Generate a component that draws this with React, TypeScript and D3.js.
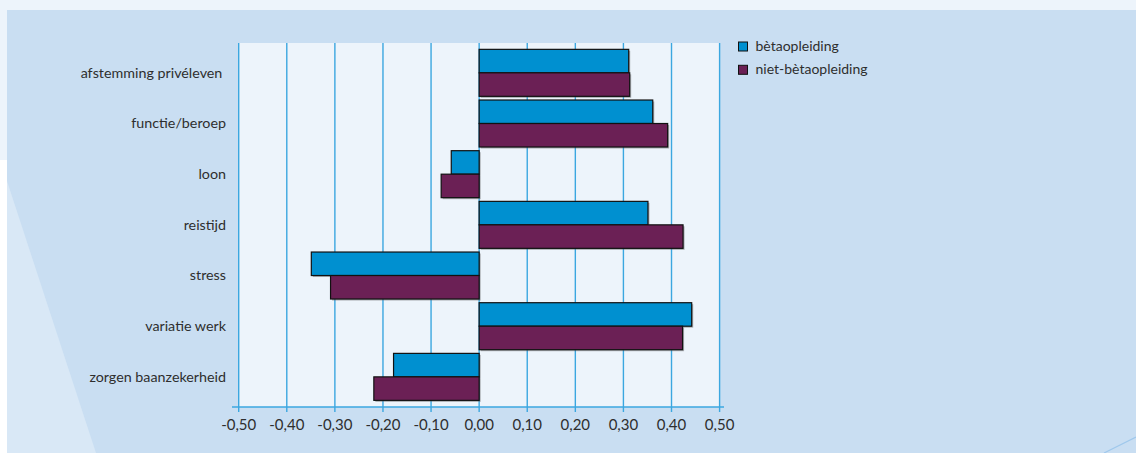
import React from "react";
import * as d3 from "d3";

const categories = [
  "afstemming privéleven ",
  "functie/beroep",
  "loon",
  "reistijd",
  "stress",
  "variatie werk",
  "zorgen baanzekerheid",
];
const seriesNames = ["bètaopleiding", "niet-bètaopleiding"];
const betaValues = [0.311, 0.361, -0.058, 0.351, -0.349, 0.442, -0.178];
const nietBetaValues = [0.313, 0.392, -0.079, 0.424, -0.309, 0.423, -0.219];
const tickValues = [-0.5, -0.4, -0.3, -0.2, -0.1, 0, 0.1, 0.2, 0.3, 0.4, 0.5];

const W = 1136;
const H = 453;
const COLORS = ["#0090d0", "#6b2055"];
const GRID = "#3ba7e0";
const TEXT = "#2e2e2e";
const FONT = "Lato, 'Open Sans', sans-serif";

export default function App() {
  const x = d3.scaleLinear().domain([-0.5, 0.5]).range([238.7, 719.6]);
  const y = d3
    .scaleBand<string>()
    .domain(categories)
    .range([47.5, 402.2])
    .paddingInner(0.073)
    .paddingOuter(0.0365);
  const sub = d3.scaleBand<number>().domain([0, 1]).range([0, y.bandwidth()]);
  const series = [betaValues, nietBetaValues];
  const fmt = (v: number) => d3.format(".2f")(v).replace(".", ",").replace("−", "-");
  const plotTop = 43;
  const axisY = 407;

  return (
    <svg
      width={W}
      height={H}
      style={{ position: "absolute", left: 0, top: 0, display: "block" }}
      fontFamily={FONT}
    >
      {/* backdrop */}
      <rect x={0} y={0} width={W} height={H} fill="#edf4fb" />
      <rect x={0} y={160} width={7} height={H - 160} fill="#ffffff" />
      <rect x={7} y={10} width={W - 7} height={H - 10} fill="#c9def2" />
      <polygon points={`7,181 96,453 7,453`} fill="#d9e8f6" />
      <line x1={1136} y1={437} x2={1104} y2={453} stroke="#9fc8ec" strokeWidth={1.2} />

      {/* plot area */}
      <rect x={x(-0.5)} y={plotTop} width={x(0.5) - x(-0.5)} height={axisY - plotTop} fill="#edf4fb" />
      {tickValues.map((t) => (
        <line
          key={`g${t}`}
          x1={x(t)}
          x2={x(t)}
          y1={plotTop}
          y2={axisY + 5}
          stroke={GRID}
          strokeWidth={1.4}
        />
      ))}
      <line x1={232} x2={724} y1={axisY} y2={axisY} stroke={GRID} strokeWidth={1.4} />

      {/* bars */}
      {categories.map((c, i) =>
        series.map((vals, s) => {
          const v = vals[i];
          const x0 = x(Math.min(0, v));
          const w = Math.abs(x(v) - x(0));
          const yy = (y(c) as number) + (sub(s) as number);
          const h = sub.bandwidth();
          return (
            <g key={`${c}-${s}`}>
              <rect x={x0 + 1.5} y={yy + 1.5} width={w} height={h} fill="#555" opacity={0.45} />
              <rect x={x0} y={yy} width={w} height={h} fill={COLORS[s]} stroke="#111" strokeWidth={1.2} />
            </g>
          );
        })
      )}

      {/* category labels */}
      {categories.map((c) => (
        <text
          key={`l${c}`}
          x={226}
          y={(y(c) as number) + y.bandwidth() / 2}
          dy="0.33em"
          textAnchor="end"
          fontSize={14.3}
          fill={TEXT}
          style={{ whiteSpace: "pre" }}
        >
          {c}
        </text>
      ))}

      {/* tick labels */}
      {tickValues.map((t) => (
        <text key={`t${t}`} x={x(t)} y={430} textAnchor="middle" fontSize={15} fill={TEXT}>
          {fmt(t)}
        </text>
      ))}

      {/* legend */}
      {seriesNames.map((n, s) => (
        <g key={n} transform={`translate(738.5, ${42 + s * 23.3})`}>
          <rect x={0} y={0} width={9} height={9} fill={COLORS[s]} stroke="#111" strokeWidth={1} />
          <text x={17} y={4.5} dy="0.33em" fontSize={14} fill={TEXT}>
            {n}
          </text>
        </g>
      ))}
    </svg>
  );
}
